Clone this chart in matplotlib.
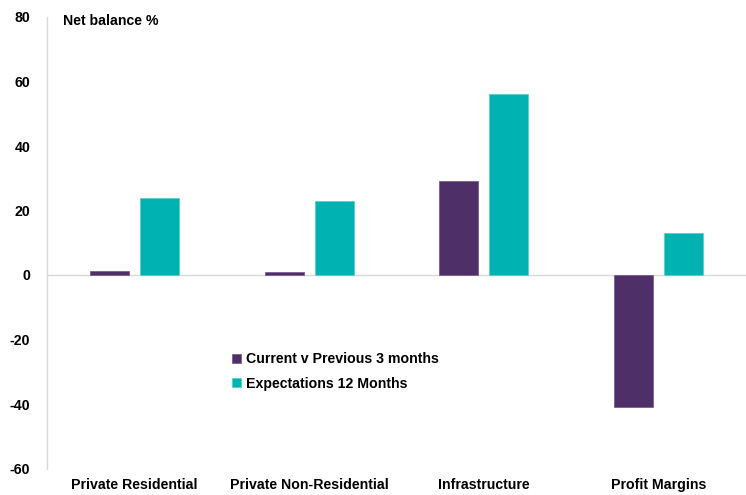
import matplotlib
matplotlib.use("Agg")
import matplotlib.pyplot as plt
import numpy as np

categories = ["Private Residential", "Private Non-Residential", "Infrastructure", "Profit Margins"]
current_vs_prev = [1.2, 1.0, 29, -41]
expectations_12m = [24, 23, 56, 13]
series_names = ["Current v Previous 3 months", "Expectations 12 Months"]
y_ticks = [-60, -40, -20, 0, 20, 40, 60, 80]

purple = "#4E2F67"
teal = "#00B2B1"
fs = 10.2

plt.rcParams["font.family"] = ["Liberation Sans", "DejaVu Sans"]
plt.rcParams["font.weight"] = "bold"

fig = plt.figure(figsize=(7.46, 4.95), dpi=100)
ax = fig.add_axes([47 / 746, 26.5 / 495, 699 / 746, (468.5 - 17) / 495])

x = np.arange(len(categories))
w = 0.223
off = 0.143
ax.bar(x - off, current_vs_prev, w, color=purple, edgecolor="#7A5F92", linewidth=0.6,
       label=series_names[0], zorder=2)
ax.bar(x + off, expectations_12m, w, color=teal, edgecolor="#5CCFCB", linewidth=0.6,
       label=series_names[1], zorder=2)

ax.set_xlim(-0.5, len(categories) - 0.5)
ax.set_ylim(-60, 80)
ax.set_yticks(y_ticks)
ax.set_yticklabels([str(t) for t in y_ticks], fontsize=fs, fontweight="bold")
ax.set_xticks(x)
ax.set_xticklabels(categories, fontsize=fs, fontweight="bold")
ax.tick_params(axis="y", length=0, pad=12)
ax.tick_params(axis="x", length=0, pad=7)

for s in ["top", "right", "bottom"]:
    ax.spines[s].set_visible(False)
ax.spines["left"].set_color("#D9D9D9")
ax.spines["left"].set_linewidth(1.0)
ax.axhline(0, color="#D9D9D9", linewidth=1.0, zorder=1)

ax.text(16 / 699, (468.5 - 21) / 451.5, "Net balance %", transform=ax.transAxes,
        fontsize=fs, fontweight="bold", va="center", ha="left")

leg = ax.legend(loc="upper left", bbox_to_anchor=(178 / 699, (468.5 - 345) / 451.5),
                frameon=False, fontsize=fs, handlelength=0.6, handleheight=0.6,
                handletextpad=0.35, labelspacing=0.75, borderpad=0)

fig.savefig("out.png", dpi=100)
